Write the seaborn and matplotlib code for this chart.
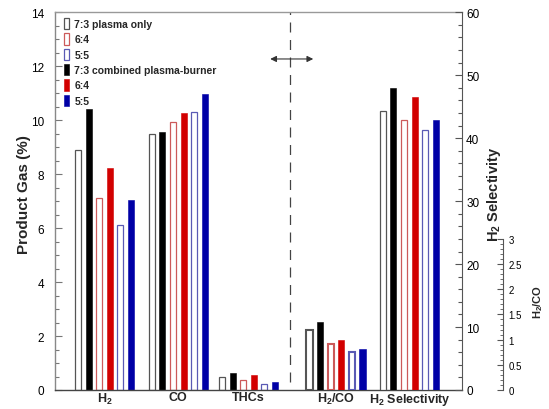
import numpy as np
import pandas as pd
import matplotlib
matplotlib.use("Agg")
import matplotlib.pyplot as plt
from matplotlib.patches import Patch
from matplotlib.ticker import MultipleLocator, FixedLocator, FuncFormatter
import seaborn as sns

# ---------------- data ----------------
category_labels = [r"H$_\mathbf{2}$", "CO", "THCs", r"H$_\mathbf{2}$/CO", r"H$_\mathbf{2}$ Selectivity"]
gas_categories = ["H2", "CO", "THCs"]

series = ["7:3 plasma only", "7:3 combined plasma-burner",
          "6:4 plasma only", "6:4 combined",
          "5:5 plasma only", "5:5 combined"]
open_series = ["7:3 plasma only", "6:4 plasma only", "5:5 plasma only"]
legend_series = ["7:3 plasma only", "6:4 plasma only", "5:5 plasma only",
                 "7:3 combined plasma-burner", "6:4 combined", "5:5 combined"]
legend_labels = ["7:3 plasma only", "6:4", "5:5", "7:3 combined plasma-burner", "6:4", "5:5"]

# product gas (%) for H2, CO, THCs
gas_73_plasma = [8.90, 9.48, 0.48]
gas_73_combined = [10.40, 9.58, 0.62]
gas_64_plasma = [7.13, 9.95, 0.36]
gas_64_combined = [8.22, 10.28, 0.57]
gas_55_plasma = [6.10, 10.32, 0.22]
gas_55_combined = [7.04, 10.96, 0.28]

# H2/CO ratio, order: 7:3, 6:4, 5:5
h2co_plasma = [1.19, 0.91, 0.76]
h2co_combined = [1.36, 0.99, 0.81]

# H2 selectivity, order: 7:3, 6:4, 5:5
sel_plasma = [44.4, 42.9, 41.3]
sel_combined = [47.9, 46.5, 42.9]

left_ticks = [0, 2, 4, 6, 8, 10, 12, 14]
right_ticks = [0, 10, 20, 30, 40, 50, 60]
ratio_ticks = [0, 0.5, 1, 1.5, 2, 2.5, 3]

# ---------------- layout / style ----------------
group_pos = [0.0, 1.004, 1.959, 3.15, 4.147]
GROUP_SPAN = 0.865
GAP = 0.43

palette = {
    "7:3 plasma only": "#555555",
    "6:4 plasma only": "#cc5a5a",
    "5:5 plasma only": "#5a5ab4",
    "7:3 combined plasma-burner": "#000000",
    "6:4 combined": "#d20000",
    "5:5 combined": "#0000a6",
}

sns.set_style("white")
plt.rcParams["font.family"] = ["Liberation Sans", "DejaVu Sans"]
plt.rcParams["mathtext.fontset"] = "custom"
plt.rcParams["mathtext.rm"] = "Liberation Sans"
plt.rcParams["mathtext.bf"] = "Liberation Sans:bold"
plt.rcParams["mathtext.it"] = "Liberation Sans:italic"

# ---------------- build tables ----------------
gas_values = {
    "7:3 plasma only": gas_73_plasma, "7:3 combined plasma-burner": gas_73_combined,
    "6:4 plasma only": gas_64_plasma, "6:4 combined": gas_64_combined,
    "5:5 plasma only": gas_55_plasma, "5:5 combined": gas_55_combined,
}
rows = []
for s, vals in gas_values.items():
    for i, v in enumerate(vals):
        rows.append({"pos": group_pos[i], "series": s, "value": v})
gas_df = pd.DataFrame(rows)

ratio_series_plasma = ["7:3 plasma only", "6:4 plasma only", "5:5 plasma only"]
ratio_series_comb = ["7:3 combined plasma-burner", "6:4 combined", "5:5 combined"]
h2co_df = pd.DataFrame(
    [{"pos": group_pos[3], "series": s, "value": v} for s, v in zip(ratio_series_plasma, h2co_plasma)] +
    [{"pos": group_pos[3], "series": s, "value": v} for s, v in zip(ratio_series_comb, h2co_combined)])
sel_df = pd.DataFrame(
    [{"pos": group_pos[4], "series": s, "value": v} for s, v in zip(ratio_series_plasma, sel_plasma)] +
    [{"pos": group_pos[4], "series": s, "value": v} for s, v in zip(ratio_series_comb, sel_combined)])

# ---------------- figure ----------------
fig = plt.figure(figsize=(5.49, 4.10), dpi=100)
ax = fig.add_axes([55 / 549, 19 / 410, 407 / 549, 377.7 / 410])
ax2 = ax.twinx()
ax3 = ax.twinx()


def draw(axis, df, lw_open):
    u = np.unique(df["pos"])
    nw = np.min(np.diff(u)) if len(u) > 1 else 1.0
    n0 = len(axis.containers)
    sns.barplot(data=df, x="pos", y="value", hue="series", hue_order=series,
                palette=palette, native_scale=True, orient="x",
                width=GROUP_SPAN / nw, gap=GAP, dodge=True, legend=False,
                errorbar=None, ax=axis)
    for cont, s in zip(axis.containers[n0:], series):
        for bar in cont:
            if s in open_series:
                bar.set_facecolor("white")
                bar.set_edgecolor(palette[s])
                bar.set_linewidth(lw_open)
            else:
                bar.set_facecolor(palette[s])
                bar.set_edgecolor(palette[s])
                bar.set_linewidth(0.4)


draw(ax, gas_df, 0.9)
draw(ax3, h2co_df, 1.5)
draw(ax2, sel_df, 0.9)

# limits
ax.set_xlim(-0.673, 4.864)
ax.set_ylim(0, 14)
ax2.set_ylim(0, 60)
ax3.set_ylim(0, 7.5)

# main axis
ax.set_xticks(group_pos)
ax.set_xticklabels(category_labels, fontweight="bold", fontsize=9)
ax.tick_params(axis="x", length=0, pad=1)
ax.set_xlabel("")
ax.yaxis.set_major_locator(FixedLocator(left_ticks))
ax.yaxis.set_minor_locator(MultipleLocator(0.5))
ax.tick_params(axis="y", which="both", direction="in", colors="#777777",
               labelcolor="black", labelsize=8.5, pad=8)
ax.tick_params(axis="y", which="major", length=5, width=0.8)
ax.tick_params(axis="y", which="minor", length=3, width=0.8)
ax.set_ylabel("Product Gas (%)", fontweight="bold", fontsize=11, va="center")
ax.yaxis.set_label_coords(-0.075, 0.52)
for side, col in [("left", "#888888"), ("top", "#999999"), ("bottom", "#444444")]:
    ax.spines[side].set_color(col)
    ax.spines[side].set_linewidth(1.0)
ax.spines["right"].set_visible(False)

# selectivity axis
for side in ["left", "top", "bottom"]:
    ax2.spines[side].set_visible(False)
ax2.spines["right"].set_color("#555555")
ax2.yaxis.set_major_locator(FixedLocator(right_ticks))
ax2.yaxis.set_minor_locator(MultipleLocator(2))
ax2.tick_params(axis="y", which="both", direction="in", colors="#555555",
                labelcolor="black", labelsize=8.5, pad=3)
ax2.tick_params(axis="y", which="major", length=5, width=0.8)
ax2.tick_params(axis="y", which="minor", length=3, width=0.8)
ax2.set_xlabel("")
ax2.set_ylabel(r"H$_\mathbf{2}$ Selectivity", fontweight="bold", fontsize=10.5,
               rotation=90, va="center", ha="center")
ax2.yaxis.set_label_coords(1.078, 0.52)

# H2/CO axis
for side in ["left", "top", "bottom"]:
    ax3.spines[side].set_visible(False)
ax3.spines["right"].set_position(("axes", 448 / 407))
ax3.spines["right"].set_bounds(0, 3)
ax3.spines["right"].set_color("#555555")
ax3.yaxis.set_major_locator(FixedLocator(ratio_ticks))
ax3.yaxis.set_minor_locator(FixedLocator(np.arange(0, 3.001, 0.1)))
ax3.yaxis.set_major_formatter(FuncFormatter(lambda v, p: f"{v:g}"))
ax3.tick_params(axis="y", which="both", direction="in", colors="#555555",
                labelcolor="black", labelsize=7, pad=4)
ax3.tick_params(axis="y", which="major", length=4, width=0.8)
ax3.tick_params(axis="y", which="minor", length=2, width=0.6)
ax3.set_xlabel("")
ax3.set_ylabel(r"H$_\mathbf{2}$/CO", fontweight="bold", fontsize=8,
               rotation=90, va="center", ha="center")
ax3.yaxis.set_label_coords(1.187, 0.236)

# divider and arrow
ax.axvline(2.524, ymin=0.021, ymax=1.0, color="#444444", lw=0.9,
           linestyle=(0, (8, 6)))
ax.annotate("", xy=(2.255, 12.27), xytext=(2.84, 12.27),
            arrowprops=dict(arrowstyle="<|-|>", color="#333333", lw=0.8,
                            mutation_scale=9, shrinkA=0, shrinkB=0))

# legend
handles = []
for s in legend_series:
    if s in open_series:
        handles.append(Patch(facecolor="white", edgecolor=palette[s], linewidth=0.9))
    else:
        handles.append(Patch(facecolor=palette[s], edgecolor=palette[s], linewidth=0.4))
leg = ax.legend(handles, legend_labels, loc="upper left",
                bbox_to_anchor=(0.022, 0.985), frameon=False,
                prop={"weight": "bold", "size": 7.5},
                handlelength=0.5, handleheight=1.3, handletextpad=0.5,
                labelspacing=0.38, borderpad=0, borderaxespad=0)

fig.savefig("out.png", dpi=100)
